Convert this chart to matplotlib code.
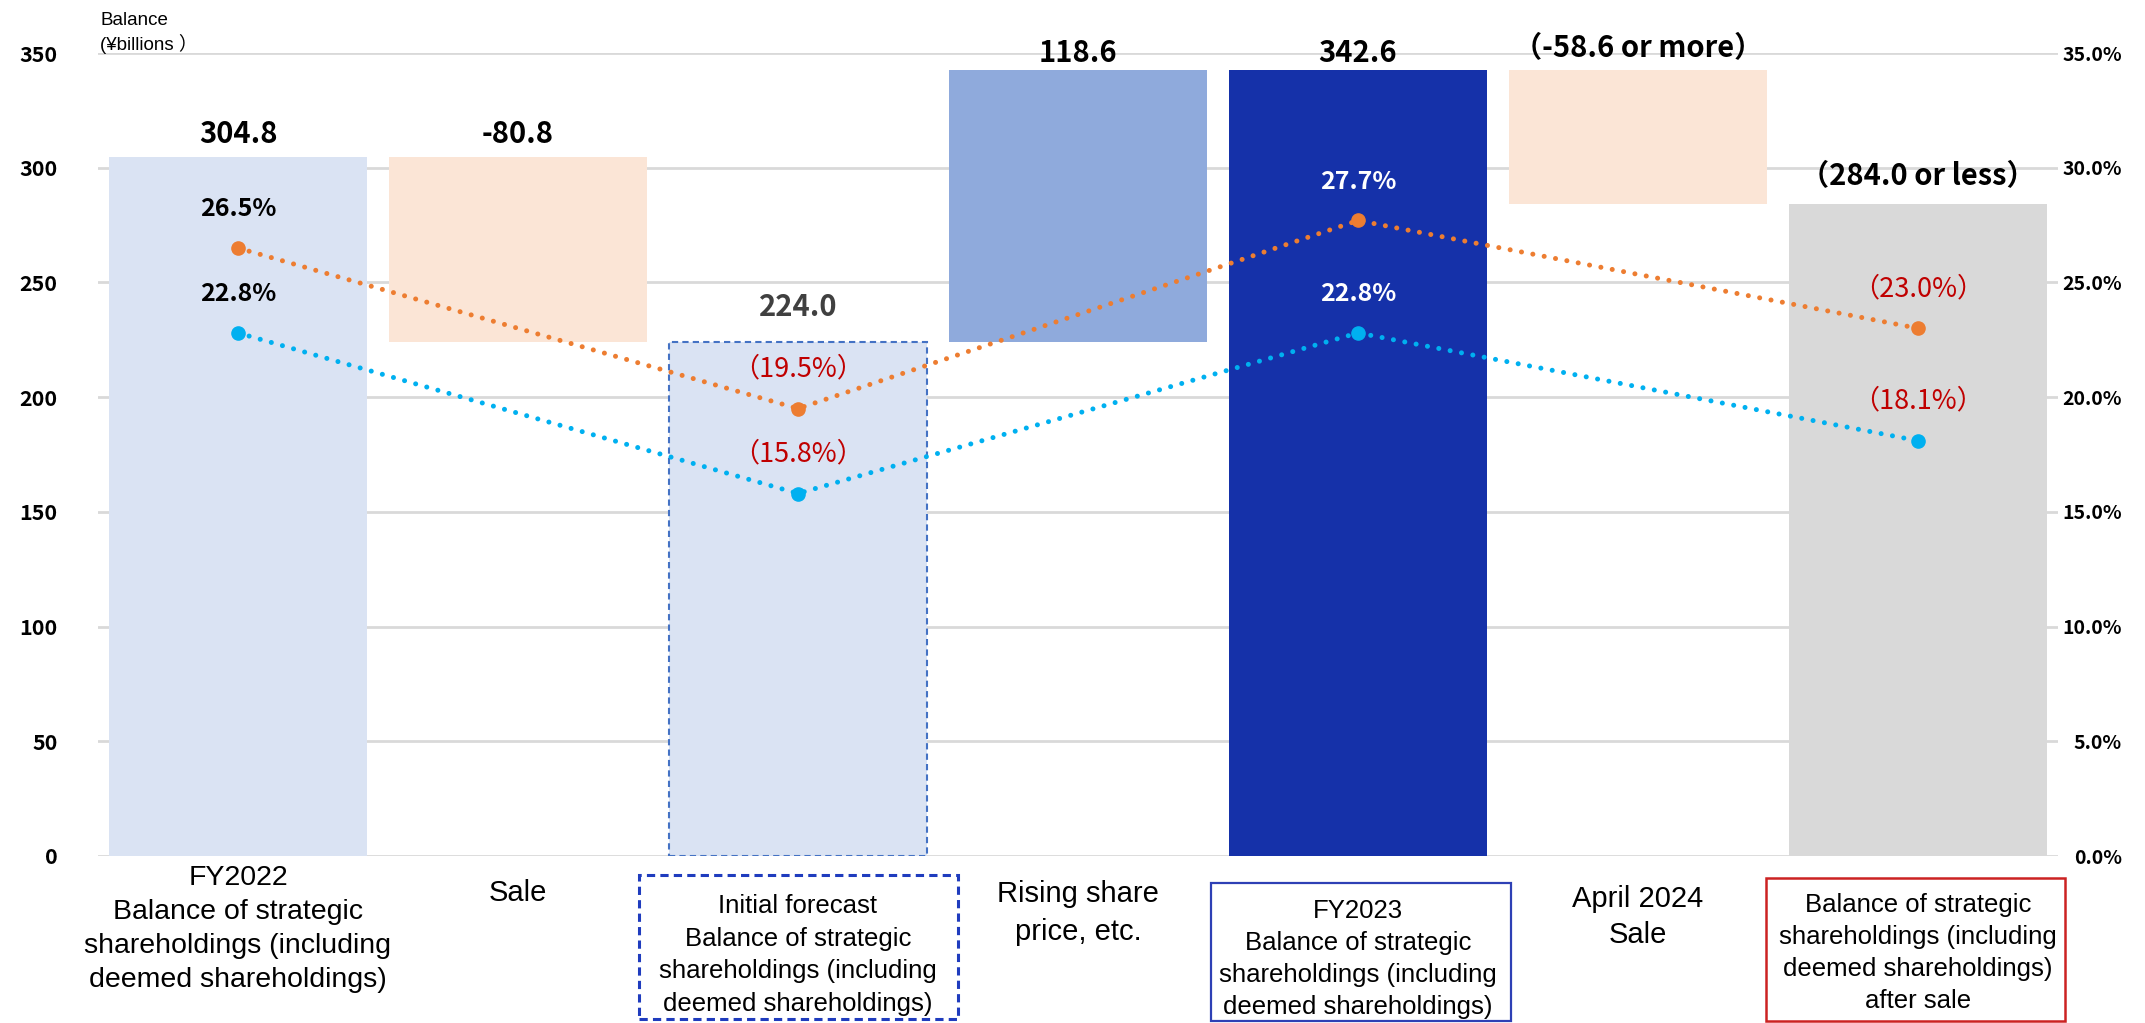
import matplotlib
matplotlib.use('Agg')
import matplotlib.pyplot as plt
import matplotlib.transforms as mtransforms
from matplotlib.patches import Rectangle
from matplotlib.ticker import FuncFormatter

# Data
categories = [
    'FY2022\nBalance of strategic\nshareholdings (including\ndeemed shareholdings)',
    'Sale',
    'Initial forecast\nBalance of strategic\nshareholdings (including\ndeemed shareholdings)',
    'Rising share\nprice, etc.',
    'FY2023\nBalance of strategic\nshareholdings (including\ndeemed shareholdings)',
    'April 2024\nSale',
    'Balance of strategic\nshareholdings (including\ndeemed shareholdings)\nafter sale',
]
bar_bottom = [0, 224.0, 0, 224.0, 0, 284.0, 0]
bar_top = [304.8, 304.8, 224.0, 342.6, 342.6, 342.6, 284.0]
value_labels = ['304.8', '-80.8', '224.0', '118.6', '342.6',
                '（-58.6 or more）', '（284.0 or less）']

line_pos = [0, 2, 4, 6]
ratio_orange = [26.5, 19.5, 27.7, 23.0]
ratio_blue = [22.8, 15.8, 22.8, 18.1]
orange_labels = ['26.5%', '（19.5%）', '27.7%', '（23.0%）']
blue_labels = ['22.8%', '（15.8%）', '22.8%', '（18.1%）']

# Styles
bar_colors = ['#DAE3F3', '#FBE5D6', '#DAE3F3', '#8FAADC', '#1531A9', '#FBE5D6', '#D9D9D9']
label_colors = ['black', 'black', '#404040', 'black', 'black', 'black', 'black']
label_gap = [10, 10, 19, 6, 6, 9, 14]          # points above bar top (baseline)
pct_colors = ['black', '#C00000', 'white', '#C00000']
pct_weight = ['bold', 'normal', 'bold', 'normal']
pct_size = [18, 19.5, 18, 19.5]
cat_size = [20.5, 21, 18.5, 21, 18.5, 21, 18.5]
cat_spacing = [1.4, 1.4, 1.45, 1.45, 1.42, 1.4, 1.42]
cat_center_px = [929, 893, 955, 913, 959, 917, 953]

W, H = 2145, 1023
fig = plt.figure(figsize=(W / 100, H / 100), dpi=100)
ax = fig.add_axes([98 / W, 1 - 856 / H, (2058 - 98) / W, (856 - 53) / H])

cjk = ['Noto Sans CJK JP', 'DejaVu Sans']
latin = ['Liberation Sans', 'Noto Sans CJK JP']

x = list(range(len(categories)))
heights = [t - b for t, b in zip(bar_top, bar_bottom)]
bars = ax.bar(x, heights, bottom=bar_bottom, width=0.92, color=bar_colors, zorder=2)
bars[2].set_edgecolor('#4472C4')
bars[2].set_linestyle((0, (3, 2)))
bars[2].set_linewidth(1.5)

ax.set_xlim(-0.5, 6.5)
ax.set_ylim(0, 350)
ax.set_yticks(range(0, 351, 50))
ax.set_xticks([])
ax.grid(axis='y', color='#D9D9D9', linewidth=2)
ax.set_axisbelow(True)
for s in ax.spines.values():
    s.set_visible(False)
ax.tick_params(axis='y', length=0, pad=29, labelsize=15.5)
for lbl in ax.get_yticklabels():
    lbl.set_fontfamily(cjk)
    lbl.set_fontweight('bold')

for i in x:
    ax.annotate(value_labels[i], (i, bar_top[i]), xytext=(0, label_gap[i]),
                textcoords='offset points', ha='center', va='baseline',
                fontsize=21, fontweight='bold', color=label_colors[i],
                family=cjk, zorder=5)

# Ratio lines on the right axis
ax2 = ax.twinx()
ax2.set_ylim(0, 35)
ax2.set_yticks(range(0, 36, 5))
ax2.yaxis.set_major_formatter(FuncFormatter(lambda v, p: f'{v:.1f}%'))
for s in ax2.spines.values():
    s.set_visible(False)
ax2.tick_params(axis='y', length=0, pad=46, labelsize=14)
for lbl in ax2.get_yticklabels():
    lbl.set_fontfamily(cjk)
    lbl.set_fontweight('bold')
    lbl.set_horizontalalignment('right')

for vals, col in [(ratio_orange, '#ED7D31'), (ratio_blue, '#00B0F0')]:
    ax2.plot(line_pos, vals, color=col, linewidth=3.6, linestyle=(0, (0.01, 2.3)),
             dash_capstyle='round', marker='o', markersize=9.5, zorder=4)

for vals, labels in [(ratio_orange, orange_labels), (ratio_blue, blue_labels)]:
    for j, (xv, v, t) in enumerate(zip(line_pos, vals, labels)):
        ax2.annotate(t, (xv, v), xytext=(0, 23), textcoords='offset points',
                     ha='center', va='baseline', fontsize=pct_size[j],
                     fontweight=pct_weight[j], color=pct_colors[j], family=cjk, zorder=5)

# Category labels under the axis
trans = mtransforms.blended_transform_factory(ax.transData, fig.transFigure)
for i, cat in enumerate(categories):
    ax.text(i, 1 - cat_center_px[i] / H, cat, transform=trans, ha='center', va='center',
            multialignment='center', fontsize=cat_size[i], family=latin,
            linespacing=cat_spacing[i], color='black')

def px_rect(x0, y0, x1, y1, **kw):
    fig.add_artist(Rectangle((x0 / W, 1 - y1 / H), (x1 - x0) / W, (y1 - y0) / H,
                             transform=fig.transFigure, fill=False, **kw))

px_rect(639, 875, 958, 1019, edgecolor='#1F3CBE', linewidth=2.2, linestyle=(0, (2.7, 1.7)))
px_rect(1211, 883, 1511, 1021, edgecolor='#2E40B5', linewidth=1.6)
px_rect(1766, 878, 2065, 1021, edgecolor='#CC2222', linewidth=1.8)

fig.text(100 / W, 1 - 12 / H, 'Balance\n(¥billions ）', ha='left', va='top',
         fontsize=13.5, family=latin, linespacing=1.3)

fig.savefig('out.png', dpi=100)
